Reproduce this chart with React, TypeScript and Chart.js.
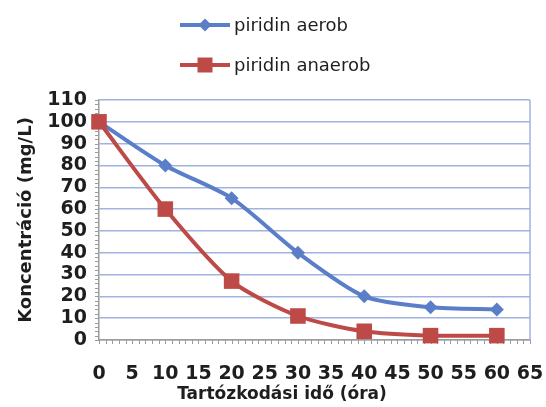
import { useEffect, useRef } from "react";
import { Chart, registerables } from "chart.js";

Chart.register(...registerables);

// Residence time (hours) and pyridine concentration (mg/L)
const hours = [0, 10, 20, 30, 40, 50, 60];
const aerob = [100, 80, 65, 40, 20, 15, 14];
const anaerob = [100, 60, 27, 11, 4, 2, 2];

const seriesNames = ["piridin aerob", "piridin anaerob"];
const xTitle = "Tartózkodási idő (óra)";
const yTitle = "Koncentráció (mg/L)";

const xMin = 0;
const xMax = 65;
const xStep = 5;
const yMin = 0;
const yMax = 110;
const yStep = 10;

const BLUE = "#5b7ec8";
const RED = "#bd4a47";
const GRID = "#9fb2e0";
const AXIS = "#9c9c9c";
const TEXT = "#1e1e1e";
const TICK_FONT = "DejaVu Sans";

type Marker = "diamond" | "square";

function drawMarker(ctx: CanvasRenderingContext2D, kind: Marker, x: number, y: number, r: number) {
  ctx.beginPath();
  if (kind === "diamond") {
    ctx.moveTo(x, y - r);
    ctx.lineTo(x + r, y);
    ctx.lineTo(x, y + r);
    ctx.lineTo(x - r, y);
    ctx.closePath();
  } else {
    ctx.rect(x - r, y - r, 2 * r, 2 * r);
  }
  ctx.fill();
}

// Minor tick marks and the right frame line, drawn under the series
const frame = {
  id: "frame",
  beforeDatasetsDraw(chart: any) {
    const { ctx, chartArea: a, scales } = chart;
    const xs = scales.x;
    const ys = scales.y;
    ctx.save();
    ctx.strokeStyle = GRID;
    ctx.lineWidth = 1.5;
    ctx.beginPath();
    ctx.moveTo(a.right, a.top);
    ctx.lineTo(a.right, a.bottom);
    ctx.stroke();

    ctx.strokeStyle = AXIS;
    ctx.lineWidth = 1;
    ctx.beginPath();
    for (let v = xMin; v <= xMax; v += 1) {
      const px = Math.round(xs.getPixelForValue(v)) + 0.5;
      ctx.moveTo(px, a.bottom);
      ctx.lineTo(px, a.bottom + 4);
    }
    for (let v = yMin; v <= yMax; v += 2) {
      const py = Math.round(ys.getPixelForValue(v)) + 0.5;
      ctx.moveTo(a.left - 4, py);
      ctx.lineTo(a.left, py);
    }
    ctx.stroke();
    ctx.restore();
  },
  afterDraw(chart: any) {
    const { ctx, chartArea: a } = chart;
    ctx.save();

    // Legend: two stacked rows, line sample with marker
    const rows: { name: string; color: string; marker: Marker; r: number }[] = [
      { name: seriesNames[0], color: BLUE, marker: "diamond", r: 6.5 },
      { name: seriesNames[1], color: RED, marker: "square", r: 7.5 },
    ];
    rows.forEach((row, i) => {
      const y = 25 + i * 40;
      ctx.strokeStyle = row.color;
      ctx.fillStyle = row.color;
      ctx.lineWidth = 4;
      ctx.beginPath();
      ctx.moveTo(180, y);
      ctx.lineTo(230, y);
      ctx.stroke();
      drawMarker(ctx, row.marker, 205, y, row.r);
      ctx.fillStyle = TEXT;
      ctx.font = `18px '${TICK_FONT}'`;
      ctx.textAlign = "left";
      ctx.textBaseline = "middle";
      ctx.fillText(row.name, 234, y + 1);
    });

    // Horizontal axis title
    ctx.fillStyle = TEXT;
    ctx.font = `bold 17px '${TICK_FONT}'`;
    ctx.textAlign = "center";
    ctx.textBaseline = "middle";
    ctx.fillText(xTitle, chart.width / 2 + 9, a.bottom + 55);
    ctx.restore();
  },
};

export default function App() {
  const canvasRef = useRef<HTMLCanvasElement | null>(null);

  useEffect(() => {
    document.body.style.margin = "0";
    const canvas = canvasRef.current;
    if (!canvas) return;

    const chart = new Chart(canvas, {
      type: "line",
      data: {
        datasets: [
          {
            label: seriesNames[0],
            data: hours.map((h, i) => ({ x: h, y: aerob[i] })),
            borderColor: BLUE,
            backgroundColor: BLUE,
            borderWidth: 4,
            tension: 0.25,
            pointStyle: "rectRot",
            pointRadius: 7,
            pointBorderWidth: 0,
            order: 1,
            clip: false as any,
          },
          {
            label: seriesNames[1],
            data: hours.map((h, i) => ({ x: h, y: anaerob[i] })),
            borderColor: RED,
            backgroundColor: RED,
            borderWidth: 4,
            tension: 0.25,
            pointStyle: "rect",
            pointRadius: 11,
            pointBorderWidth: 0,
            order: 0,
            clip: false as any,
          },
        ],
      },
      options: {
        animation: false,
        responsive: false,
        layout: { padding: { top: 100, right: 16, left: 10, bottom: 0 } },
        plugins: {
          legend: { display: false },
          tooltip: { enabled: false },
        },
        scales: {
          x: {
            type: "linear",
            min: xMin,
            max: xMax,
            grid: { display: false, drawTicks: false },
            border: { display: true, color: AXIS, width: 1.5 },
            ticks: {
              stepSize: xStep,
              autoSkip: false,
              maxRotation: 0,
              padding: 23,
              color: TEXT,
              font: { family: TICK_FONT, size: 19, weight: "bold" },
            },
            afterFit(scale: any) {
              scale.height = 67;
              scale.paddingLeft = 0;
              scale.paddingRight = 0;
            },
          },
          y: {
            type: "linear",
            min: yMin,
            max: yMax,
            grid: { color: GRID, lineWidth: 1.5, drawTicks: false },
            border: { display: true, color: AXIS, width: 1.5 },
            ticks: {
              stepSize: yStep,
              autoSkip: false,
              padding: 12,
              color: TEXT,
              font: { family: TICK_FONT, size: 19, weight: "bold" },
            },
            title: {
              display: true,
              text: yTitle,
              color: TEXT,
              padding: { top: 6, bottom: 0 },
              font: { family: TICK_FONT, size: 18, weight: "bold" },
            },
            afterFit(scale: any) {
              scale.width = 89;
              scale.paddingTop = 0;
              scale.paddingBottom = 0;
            },
          },
        },
      },
      plugins: [frame],
    });

    return () => chart.destroy();
  }, []);

  return (
    <div style={{ width: 546, height: 407 }}>
      <canvas ref={canvasRef} width={546} height={407} />
    </div>
  );
}
